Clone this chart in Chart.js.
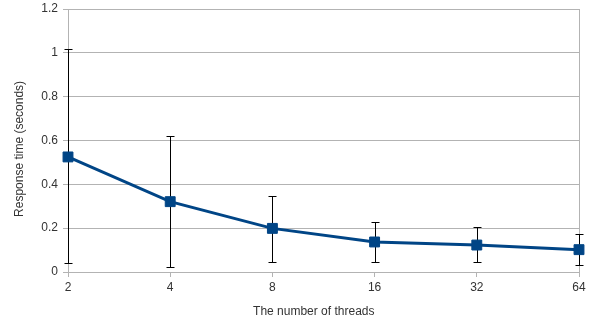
<!DOCTYPE html>
<html>
<head>
<meta charset="utf-8">
<script src="https://cdn.jsdelivr.net/npm/chart.js@4/dist/chart.umd.min.js"></script>
<style>
html,body{margin:0;padding:0;background:#fff;}
#wrap{width:593px;height:324px;}
</style>
</head>
<body>
<div id="wrap"><canvas id="c" width="593" height="324"></canvas></div>
<script>
const threads = ['2', '4', '8', '16', '32', '64'];
const responseTime = [0.525, 0.321, 0.199, 0.137, 0.123, 0.102];
const errorHigh = [1.017, 0.622, 0.348, 0.228, 0.205, 0.175];
const errorLow = [0.041, 0.023, 0.047, 0.047, 0.047, 0.032];
const yTicks = [0, 0.2, 0.4, 0.6, 0.8, 1, 1.2];
const xTitle = 'The number of threads';
const yTitle = 'Response time (seconds)';

const textColor = '#333333';
const gridColor = '#b3b3b3';

const errorBars = {
  id: 'errorBars',
  beforeDatasetsDraw(chart) {
    const ctx = chart.ctx;
    const xs = chart.scales.x, ys = chart.scales.y;
    ctx.save();
    ctx.strokeStyle = '#000';
    ctx.lineWidth = 1;
    threads.forEach((t, i) => {
      const x = Math.round(xs.getPixelForValue(i)) + 0.5;
      const yt = Math.round(ys.getPixelForValue(errorHigh[i])) + 0.5;
      const yb = Math.round(ys.getPixelForValue(errorLow[i])) + 0.5;
      ctx.beginPath();
      ctx.moveTo(x, yt); ctx.lineTo(x, yb);
      ctx.moveTo(x - 4, yt); ctx.lineTo(x + 4, yt);
      ctx.moveTo(x - 4, yb); ctx.lineTo(x + 4, yb);
      ctx.stroke();
    });
    ctx.restore();
  }
};

const axisTitles = {
  id: 'axisTitles',
  afterDraw(chart) {
    const ctx = chart.ctx;
    const a = chart.chartArea;
    ctx.save();
    ctx.fillStyle = textColor;
    ctx.font = '12px "Liberation Sans"';
    ctx.textAlign = 'center';
    ctx.textBaseline = 'middle';
    ctx.fillText(xTitle, a.left + (a.right - a.left) * 0.481, a.bottom + 40);
    ctx.translate(a.left - 48, a.top + (a.bottom - a.top) * 0.532);
    ctx.rotate(-Math.PI / 2);
    ctx.fillText(yTitle, 0, 0);
    ctx.restore();
  }
};

new Chart(document.getElementById('c'), {
  type: 'line',
  data: {
    labels: threads,
    datasets: [{
      data: responseTime,
      borderColor: '#004586',
      backgroundColor: '#004586',
      borderWidth: 3,
      pointStyle: 'rect',
      pointRadius: 7,
      pointBorderWidth: 1,
      pointBorderColor: '#004586',
      pointBackgroundColor: '#004586',
      tension: 0
    }]
  },
  options: {
    responsive: false,
    animation: false,
    devicePixelRatio: 1,
    layout: { padding: { left: 0, right: 14, top: 9, bottom: 0 } },
    plugins: { legend: { display: false }, tooltip: { enabled: false } },
    scales: {
      x: {
        offset: false,
        afterFit(s) { s.height = 52; },
        grid: {
          color: (c) => (c.index === 0 || c.index === threads.length - 1) ? gridColor : 'rgba(0,0,0,0)',
          tickColor: gridColor,
          tickLength: 5,
          lineWidth: 1
        },
        border: { color: gridColor },
        ticks: { color: textColor, font: { family: 'Liberation Sans', size: 12 }, padding: 3, maxRotation: 0 }
      },
      y: {
        min: 0, max: 1.2,
        afterFit(s) { s.width = 68; s.paddingTop = 0; s.paddingBottom = 0; },
        afterBuildTicks(s) { s.ticks = yTicks.map(v => ({ value: v })); },
        grid: { color: gridColor, tickColor: gridColor, tickLength: 5 },
        border: { color: gridColor },
        ticks: { color: textColor, font: { family: 'Liberation Sans', size: 12 }, padding: 5,
          callback: (v) => String(Math.round(v * 10) / 10) }
      }
    }
  },
  plugins: [errorBars, axisTitles]
});
</script>
</body>
</html>
